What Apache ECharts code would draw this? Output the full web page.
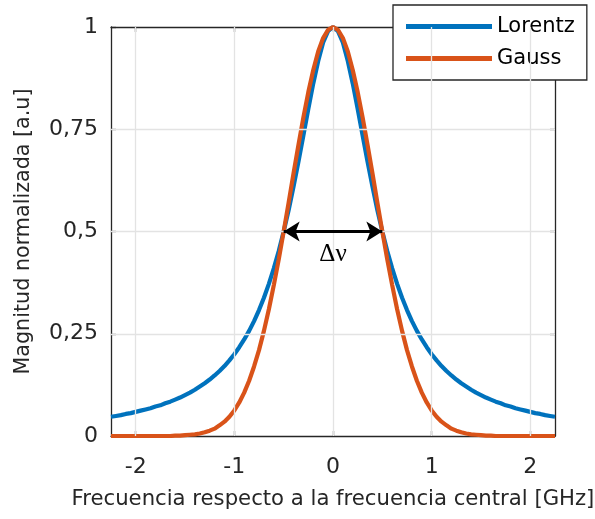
<!DOCTYPE html>
<html><head><meta charset="utf-8">
<script src="https://cdn.jsdelivr.net/npm/echarts@6/dist/echarts.min.js"></script>
<style>html,body{margin:0;padding:0;background:#fff}#c{width:595px;height:519px}</style>
</head><body><div id="c"></div>
<script>
const freq = [-2.25,-2.2,-2.15,-2.1,-2.05,-2,-1.95,-1.9,-1.85,-1.8,-1.75,-1.7,-1.65,-1.6,-1.55,-1.5,-1.45,-1.4,-1.35,-1.3,-1.25,-1.2,-1.15,-1.1,-1.05,-1,-0.95,-0.9,-0.85,-0.8,-0.75,-0.7,-0.65,-0.6,-0.55,-0.5,-0.45,-0.4,-0.35,-0.3,-0.25,-0.2,-0.15,-0.1,-0.05,0,0.05,0.1,0.15,0.2,0.25,0.3,0.35,0.4,0.45,0.5,0.55,0.6,0.65,0.7,0.75,0.8,0.85,0.9,0.95,1,1.05,1.1,1.15,1.2,1.25,1.3,1.35,1.4,1.45,1.5,1.55,1.6,1.65,1.7,1.75,1.8,1.85,1.9,1.95,2,2.05,2.1,2.15,2.2,2.25];
const lorentz = [0.047,0.049,0.051,0.054,0.056,0.059,0.062,0.065,0.068,0.072,0.075,0.080,0.084,0.089,0.094,0.100,0.106,0.113,0.121,0.129,0.138,0.148,0.159,0.171,0.185,0.200,0.217,0.236,0.257,0.281,0.308,0.338,0.372,0.410,0.452,0.500,0.552,0.610,0.671,0.735,0.800,0.862,0.917,0.962,0.990,1.000,0.990,0.962,0.917,0.862,0.800,0.735,0.671,0.610,0.552,0.500,0.452,0.410,0.372,0.338,0.308,0.281,0.257,0.236,0.217,0.200,0.185,0.171,0.159,0.148,0.138,0.129,0.121,0.113,0.106,0.100,0.094,0.089,0.084,0.080,0.075,0.072,0.068,0.065,0.062,0.059,0.056,0.054,0.051,0.049,0.047];
const gauss = [0,0,0,0,0,0,0,0,0,0,0,0,0,0.001,0.001,0.002,0.003,0.004,0.006,0.009,0.013,0.018,0.026,0.035,0.047,0.0625,0.082,0.106,0.135,0.170,0.210,0.257,0.310,0.369,0.432,0.500,0.570,0.642,0.712,0.779,0.841,0.895,0.940,0.973,0.993,1.000,0.993,0.973,0.940,0.895,0.841,0.779,0.712,0.642,0.570,0.500,0.432,0.369,0.310,0.257,0.210,0.170,0.135,0.106,0.082,0.0625,0.047,0.035,0.026,0.018,0.013,0.009,0.006,0.004,0.003,0.002,0.001,0.001,0,0,0,0,0,0,0,0,0,0,0,0,0];
const xTicks = [-2,-1,0,1,2];
const yTicks = [0,0.25,0.5,0.75,1];
const yTickLabels = ['0','0,25','0,5','0,75','1'];
const seriesNames = ['Lorentz','Gauss'];
const fwhm = [-0.5,0.5];
const fwhmLevel = 0.5;
const fwhmLabel = 'Δν';

const FONT = '"DejaVu Sans", "Liberation Sans", Arial, sans-serif';
const AX = '#262626';
const GRIDC = '#e3e3e3';
const chart = echarts.init(document.getElementById('c'), null, {renderer:'canvas'});
const pairs = ys => freq.map((x,i)=>[x, ys[i]]);
const xBase = {
  type:'value', min:-2.25, max:2.25,
  axisLine:{show:true, onZero:false, lineStyle:{color:AX, width:1.3}},
  axisTick:{show:true, inside:true, length:5, customValues:xTicks, lineStyle:{color:AX, width:1.3}},
  splitLine:{show:false}
};
const yBase = {
  type:'value', min:0, max:1, interval:0.25,
  axisLine:{show:true, onZero:false, lineStyle:{color:AX, width:1.3}},
  axisTick:{show:true, inside:true, length:5, lineStyle:{color:AX, width:1.3}},
  splitLine:{show:false}
};
chart.setOption({
  animation:false,
  backgroundColor:'#fff',
  grid:{left:111, right:40, top:27, bottom:83, containLabel:false, outerBoundsMode:'none'},
  legend:{
    orient:'vertical', left:393, top:5,
    backgroundColor:'#fff', borderColor:AX, borderWidth:1.3,
    padding:[11,12,11,13], itemGap:11,
    itemWidth:86, itemHeight:5, icon:'rect',
    textStyle:{fontFamily:FONT, fontSize:21, color:'#000'},
    data:seriesNames
  },
  xAxis:[
    Object.assign({}, xBase, {
      position:'bottom',
      name:'Frecuencia respecto a la frecuencia central [GHz]',
      nameLocation:'middle', nameGap:53,
      nameTextStyle:{fontFamily:FONT, fontSize:21.2, color:'#262626'},
      axisLabel:{show:true, customValues:xTicks, margin:20.5, fontFamily:FONT, fontSize:22, color:'#262626'}
    }),
    Object.assign({}, xBase, {position:'top', axisLabel:{show:false}})
  ],
  yAxis:[
    Object.assign({}, yBase, {
      position:'left',
      name:'Magnitud normalizada [a.u]',
      nameLocation:'middle', nameGap:77,
      nameTextStyle:{fontFamily:FONT, fontSize:20.7, color:'#262626'},
      axisLabel:{show:true, margin:13, fontFamily:FONT, fontSize:22, color:'#262626',
        formatter:v=>{const i=yTicks.indexOf(v);return i>=0?yTickLabels[i]:'';}}
    }),
    Object.assign({}, yBase, {position:'right', axisLabel:{show:false}})
  ],
  series:[
    {
      name:'__grid', type:'line', data:[], silent:true, xAxisIndex:0, yAxisIndex:0,
      markLine:{silent:true, symbol:'none', animation:false,
        lineStyle:{color:GRIDC, width:1.3, type:'solid'}, label:{show:false},
        data: xTicks.map(v=>({xAxis:v})).concat(yTicks.slice(1,4).map(v=>({yAxis:v})))
      }
    },
    {
      name:seriesNames[0], type:'line', data:pairs(lorentz), showSymbol:false, smooth:false,
      lineStyle:{width:4.2, color:'#0072BD'}, itemStyle:{color:'#0072BD'}, z:3
    },
    {
      name:seriesNames[1], type:'line', data:pairs(gauss), showSymbol:false, smooth:false,
      lineStyle:{width:4.2, color:'#D95319'}, itemStyle:{color:'#D95319'}, z:4,
      markLine:{silent:true, symbol:['arrow','arrow'], symbolSize:[15,16], animation:false,
        lineStyle:{color:'#000', width:3.2, type:'solid'}, label:{show:false},
        data:[[{coord:[fwhm[0],fwhmLevel]},{coord:[fwhm[1],fwhmLevel]}]]
      },
      markPoint:{silent:true, symbol:'circle', symbolSize:1, itemStyle:{color:'rgba(0,0,0,0)'},
        label:{show:true, position:'inside', offset:[0,23], formatter:fwhmLabel,
          fontFamily:'"Liberation Serif", "DejaVu Serif", serif', fontSize:25, color:'#000'},
        data:[{coord:[0,fwhmLevel]}]
      }
    }
  ]
});
</script></body></html>
